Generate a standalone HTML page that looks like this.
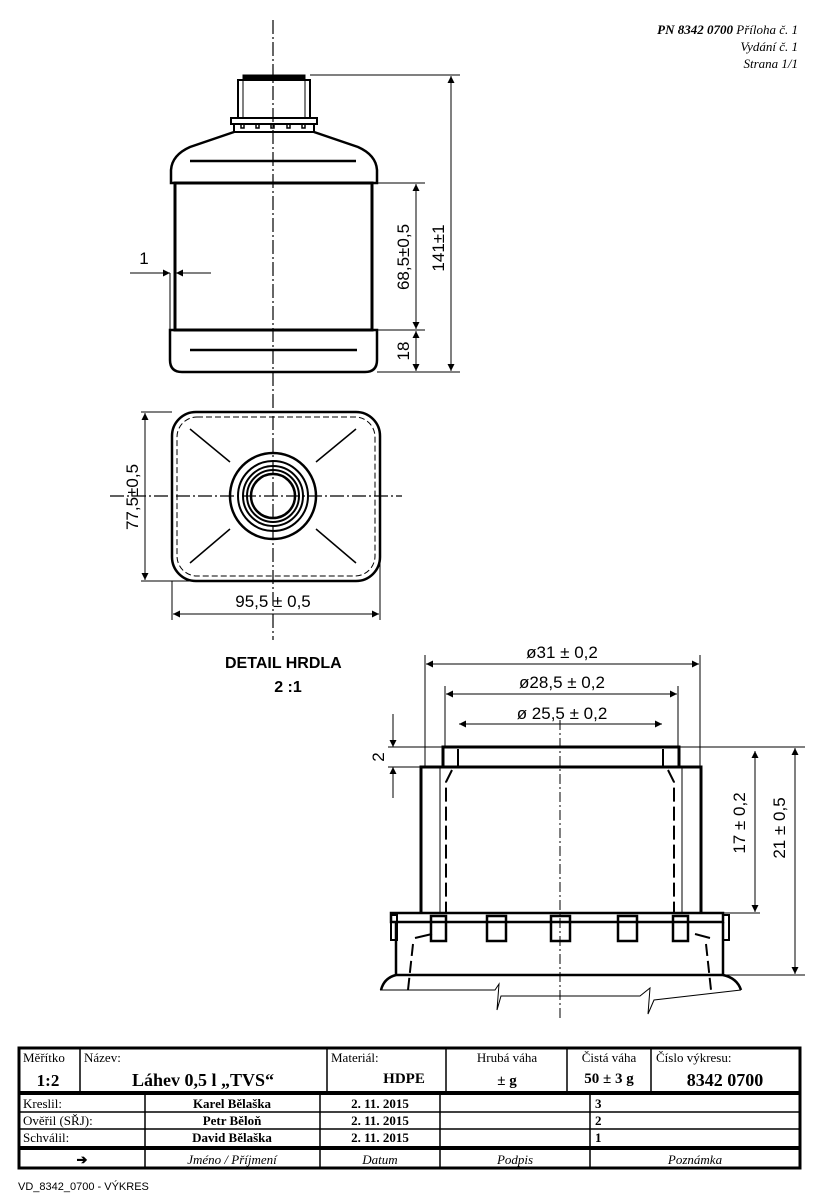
<!DOCTYPE html>
<html><head><meta charset="utf-8"><style>
body{margin:0;background:#fff}
svg{display:block}
text{font-family:"Liberation Sans",sans-serif}
.s,.s text{font-family:"Liberation Serif",serif}
</style></head><body>
<svg width="816" height="1198" viewBox="0 0 816 1198" xmlns="http://www.w3.org/2000/svg">
<defs>
<marker id="a" viewBox="0 0 10 10" refX="10" refY="5" markerWidth="9" markerHeight="7" orient="auto-start-reverse" markerUnits="userSpaceOnUse"><path d="M0,0 L10,5 L0,10 z" fill="#000"/></marker>
</defs>
<g class="s" font-style="italic" font-size="13" text-anchor="end">
<text x="798" y="34" font-weight="bold">PN  8342  0700  <tspan font-weight="normal">Příloha č. 1</tspan></text>
<text x="798" y="51">Vydání č. 1</text>
<text x="798" y="68">Strana 1/1</text>
</g>
<!-- front view -->
<g fill="none" stroke="#000">
<line x1="273" y1="20" x2="273" y2="640" stroke-width="1.2" stroke-dasharray="14,3,2,3"/>
<rect x="243" y="75" width="62" height="5" fill="#000" stroke-width="1"/>
<path d="M238,118 V80 H310 V118" stroke-width="2"/>
<line x1="243" y1="80" x2="243" y2="118" stroke-width="1"/>
<line x1="305" y1="80" x2="305" y2="118" stroke-width="1"/>
<rect x="231" y="118" width="86" height="6" stroke-width="2"/>
<rect x="234" y="124" width="80" height="8" stroke-width="2"/>
<g stroke-width="1.5"><rect x="241" y="124" width="3" height="4"/><rect x="256" y="124" width="3" height="4"/><rect x="271" y="124" width="3" height="4"/><rect x="287" y="124" width="3" height="4"/><rect x="302" y="124" width="3" height="4"/></g>
<path d="M234,132 L190,147 Q172,155 171,170 V183 H377 V170 Q376,155 358,147 L314,132" stroke-width="2.5"/>
<line x1="190" y1="161" x2="356" y2="161" stroke-width="2.5"/>
<rect x="175" y="183" width="197" height="147" stroke-width="3"/>
<path d="M170,330 V360 Q170,372 182,372 H365 Q377,372 377,360 V330 Z" stroke-width="2.5"/>
<line x1="190" y1="350" x2="357" y2="350" stroke-width="2.5"/>
<g stroke-width="1">
<line x1="310" y1="75" x2="460" y2="75"/><line x1="377" y1="372" x2="460" y2="372"/>
<line x1="372" y1="183" x2="425" y2="183"/><line x1="377" y1="330" x2="425" y2="330"/>
<line x1="451" y1="76" x2="451" y2="371" marker-start="url(#a)" marker-end="url(#a)"/>
<line x1="416" y1="184" x2="416" y2="329" marker-start="url(#a)" marker-end="url(#a)"/>
<line x1="416" y1="331" x2="416" y2="371" marker-start="url(#a)" marker-end="url(#a)"/>
<line x1="170" y1="273" x2="170" y2="330"/>
<line x1="130" y1="273" x2="170" y2="273" marker-end="url(#a)"/>
<line x1="211" y1="273" x2="176" y2="273" marker-end="url(#a)"/>
</g>
</g>
<g font-size="17">
<text x="144" y="264" text-anchor="middle">1</text>
<text transform="translate(444,248) rotate(-90)" text-anchor="middle">141±1</text>
<text transform="translate(409,257) rotate(-90)" text-anchor="middle">68,5±0,5</text>
<text transform="translate(409,351) rotate(-90)" text-anchor="middle">18</text>
</g>
<!-- top view -->
<g fill="none" stroke="#000">
<line x1="110" y1="496" x2="402" y2="496" stroke-width="1.2" stroke-dasharray="14,3,2,3"/>
<rect x="172" y="412" width="208" height="169" rx="24" stroke-width="2.5"/>
<rect x="177" y="417" width="198" height="159" rx="20" stroke-width="1" stroke-dasharray="6,3"/>
<g stroke-width="1.5">
<line x1="190" y1="429" x2="230" y2="462"/><line x1="356" y1="429" x2="316" y2="462"/>
<line x1="190" y1="563" x2="230" y2="529"/><line x1="356" y1="563" x2="316" y2="529"/>
</g>
<circle cx="273" cy="496" r="43" stroke-width="2.5"/>
<circle cx="273" cy="496" r="35" stroke-width="2"/>
<circle cx="273" cy="496" r="30" stroke-width="2"/>
<circle cx="273" cy="496" r="26" stroke-width="2"/>
<circle cx="273" cy="496" r="22" stroke-width="2.5"/>
<g stroke-width="1">
<line x1="141" y1="412" x2="172" y2="412"/><line x1="141" y1="581" x2="200" y2="581"/>
<line x1="145" y1="413" x2="145" y2="580" marker-start="url(#a)" marker-end="url(#a)"/>
<line x1="172" y1="581" x2="172" y2="620"/><line x1="380" y1="560" x2="380" y2="620"/>
<line x1="173" y1="614" x2="379" y2="614" marker-start="url(#a)" marker-end="url(#a)"/>
</g>
</g>
<g font-size="17">
<text transform="translate(138,497) rotate(-90)" text-anchor="middle">77,5±0,5</text>
<text x="273" y="607" text-anchor="middle">95,5 ± 0,5</text>
</g>
<text x="225" y="668" font-size="16" font-weight="bold">DETAIL HRDLA</text>
<text x="288" y="692" font-size="16" font-weight="bold" text-anchor="middle">2 :1</text>
<!-- detail -->
<g fill="none" stroke="#000">
<line x1="560" y1="720" x2="560" y2="1020" stroke-width="1" stroke-dasharray="10,3,2,3"/>
<rect x="443" y="747" width="236" height="20" stroke-width="3"/>
<line x1="458" y1="749" x2="458" y2="766" stroke-width="2"/><line x1="663" y1="749" x2="663" y2="766" stroke-width="2"/>
<path d="M421,913 V767 H701 V913" stroke-width="3"/>
<line x1="440" y1="767" x2="440" y2="913" stroke-width="1"/><line x1="682" y1="767" x2="682" y2="913" stroke-width="1"/>
<path d="M452,770 L446,782 V913" stroke-width="2" stroke-dasharray="14,5"/>
<path d="M668,770 L674,782 V913" stroke-width="2" stroke-dasharray="14,5"/>
<rect x="391" y="913" width="332" height="9" stroke-width="2.5"/>
<path d="M396,922 V975 H723 V922" stroke-width="2.5"/>
<rect x="391" y="915" width="6" height="25" stroke-width="2"/><rect x="723" y="915" width="6" height="25" stroke-width="2"/>
<g stroke-width="2.5"><rect x="431" y="916" width="15" height="25"/><rect x="487" y="916" width="19" height="25"/><rect x="551" y="916" width="19" height="25"/><rect x="618" y="916" width="19" height="25"/><rect x="673" y="916" width="15" height="25"/></g>
<path d="M415,938 L432,934 M695,934 L710,938" stroke-width="2"/>
<path d="M413,944 L408,990 M706,944 L711,990" stroke-width="2" stroke-dasharray="12,5"/>
<path d="M396,975 Q384,978 381,990 M723,975 Q737,978 741,990" stroke-width="2.5"/>
<path d="M380,990 L495,990 L499,984 L497,1010 L501,996 L640,996 L650,988 L648,1014 L654,1000 L741,990" stroke-width="1"/>
<g stroke-width="1">
<line x1="425" y1="655" x2="425" y2="767"/><line x1="700" y1="655" x2="700" y2="767"/>
<line x1="445" y1="686" x2="445" y2="747"/><line x1="678" y1="686" x2="678" y2="747"/>
<line x1="426" y1="664" x2="699" y2="664" marker-start="url(#a)" marker-end="url(#a)"/>
<line x1="446" y1="694" x2="677" y2="694" marker-start="url(#a)" marker-end="url(#a)"/>
<line x1="459" y1="724" x2="662" y2="724" marker-start="url(#a)" marker-end="url(#a)"/>
<line x1="388" y1="747" x2="443" y2="747"/><line x1="388" y1="767" x2="421" y2="767"/>
<line x1="393" y1="714" x2="393" y2="747" marker-end="url(#a)"/>
<line x1="393" y1="798" x2="393" y2="767" marker-end="url(#a)"/>
<line x1="679" y1="747" x2="805" y2="747"/><line x1="723" y1="975" x2="805" y2="975"/>
<line x1="723" y1="913" x2="760" y2="913"/>
<line x1="755" y1="751" x2="755" y2="912" marker-start="url(#a)" marker-end="url(#a)"/>
<line x1="795" y1="748" x2="795" y2="974" marker-start="url(#a)" marker-end="url(#a)"/>
</g>
</g>
<g font-size="17" text-anchor="middle">
<text x="562" y="658">ø31 ± 0,2</text>
<text x="562" y="688">ø28,5 ± 0,2</text>
<text x="562" y="719">ø 25,5 ± 0,2</text>
<text transform="translate(384,757) rotate(-90)">2</text>
<text transform="translate(745,823) rotate(-90)">17 ± 0,2</text>
<text transform="translate(785,828) rotate(-90)">21 ± 0,5</text>
</g>
<!-- title block -->
<g fill="none" stroke="#000">
<rect x="19" y="1048" width="781" height="120" stroke-width="3"/>
<line x1="19" y1="1093" x2="800" y2="1093" stroke-width="4"/>
<line x1="19" y1="1148" x2="800" y2="1148" stroke-width="4"/>
<g stroke-width="1.5">
<line x1="80" y1="1048" x2="80" y2="1093"/><line x1="327" y1="1048" x2="327" y2="1093"/>
<line x1="446" y1="1048" x2="446" y2="1093"/><line x1="567" y1="1048" x2="567" y2="1093"/>
<line x1="651" y1="1048" x2="651" y2="1093"/>
<line x1="145" y1="1093" x2="145" y2="1168"/><line x1="320" y1="1093" x2="320" y2="1168"/>
<line x1="440" y1="1093" x2="440" y2="1168"/><line x1="590" y1="1093" x2="590" y2="1168"/>
<line x1="19" y1="1112" x2="800" y2="1112"/><line x1="19" y1="1129" x2="800" y2="1129"/>
</g>
</g>
<g class="s" font-size="13">
<text x="23" y="1062">Měřítko</text><text x="84" y="1062">Název:</text>
<text x="331" y="1062">Materiál:</text>
<text x="507" y="1062" text-anchor="middle">Hrubá váha</text>
<text x="609" y="1062" text-anchor="middle">Čistá váha</text>
<text x="656" y="1062">Číslo výkresu:</text>
<g font-weight="bold">
<text x="48" y="1086" font-size="17" text-anchor="middle">1:2</text>
<text x="203" y="1086" font-size="18" text-anchor="middle">Láhev 0,5 l „TVS“</text>
<text x="404" y="1083" font-size="15" text-anchor="middle">HDPE</text>
<text x="507" y="1085" font-size="15" text-anchor="middle">±  g</text>
<text x="609" y="1083" font-size="15" text-anchor="middle">50 ± 3 g</text>
<text x="725" y="1086" font-size="18" text-anchor="middle">8342 0700</text>
<text x="232" y="1108" text-anchor="middle">Karel Bělaška</text>
<text x="232" y="1125" text-anchor="middle">Petr Běloň</text>
<text x="232" y="1142" text-anchor="middle">David Bělaška</text>
<text x="380" y="1108" text-anchor="middle">2. 11. 2015</text>
<text x="380" y="1125" text-anchor="middle">2. 11. 2015</text>
<text x="380" y="1142" text-anchor="middle">2. 11. 2015</text>
<text x="595" y="1108">3</text><text x="595" y="1125">2</text><text x="595" y="1142">1</text>
<text x="82" y="1164" text-anchor="middle">➔</text>
</g>
<text x="23" y="1108">Kreslil:</text><text x="23" y="1125">Ověřil (SŘJ):</text><text x="23" y="1142">Schválil:</text>
<g font-style="italic" text-anchor="middle">
<text x="232" y="1164">Jméno / Příjmení</text><text x="380" y="1164">Datum</text>
<text x="515" y="1164">Podpis</text><text x="695" y="1164">Poznámka</text>
</g>
</g>
<text x="18" y="1190" font-size="11">VD_8342_0700 - VÝKRES</text>
</svg>
</body></html>
